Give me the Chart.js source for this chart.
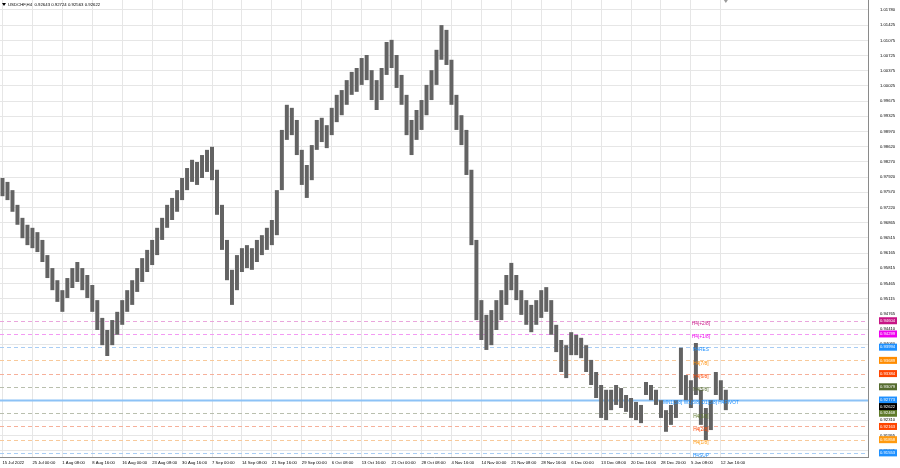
<!DOCTYPE html>
<html>
<head>
<meta charset="utf-8">
<title>USDCHF,H4</title>
<script src="https://cdn.jsdelivr.net/npm/chart.js@4.4.0/dist/chart.umd.min.js"></script>
<style>
  html, body { margin: 0; padding: 0; background: #ffffff; }
  #wrap { width: 900px; height: 468px; }
</style>
</head>
<body>
<div id="wrap"><canvas id="priceChart" width="900" height="468"></canvas></div>
<script>
// USDCHF H4 candles with murrey math levels, drawn as high/low floating bars

"use strict";

const symbolName = "USDCHF,H4";
const lastOhlc = [0.92643, 0.92724, 0.92563, 0.92622];

const tickLabels = [
  "15 Jul 2022", "25 Jul 00:00", "1 Aug 08:00", "8 Aug 16:00", "16 Aug 00:00",
  "23 Aug 08:00", "30 Aug 16:00", "7 Sep 00:00", "14 Sep 08:00", "21 Sep 16:00",
  "29 Sep 00:00", "6 Oct 08:00", "13 Oct 16:00", "21 Oct 00:00", "28 Oct 08:00",
  "4 Nov 16:00", "14 Nov 00:00", "21 Nov 08:00", "28 Nov 16:00", "6 Dec 00:00",
  "13 Dec 08:00", "20 Dec 16:00", "28 Dec 20:00", "5 Jan 08:00", "12 Jan 16:00"
];

// one entry per group of candles
const highs = [
  0.9790, 0.9781, 0.9762, 0.9728, 0.9698, 0.9682, 0.9675, 0.9665, 0.9647, 0.9612,
  0.9582, 0.9554, 0.9531, 0.9559, 0.9582, 0.9596, 0.9582, 0.9566, 0.9543, 0.9508,
  0.9467, 0.9439, 0.9462, 0.9481, 0.9508, 0.9531, 0.9554, 0.9582, 0.9605, 0.9624,
  0.9647, 0.9675, 0.9698, 0.9728, 0.9744, 0.9762, 0.9790, 0.9813, 0.9832, 0.9827,
  0.9843, 0.9855, 0.9862, 0.9809, 0.9728, 0.9647, 0.9578, 0.9612, 0.9628, 0.9635,
  0.9628, 0.9647, 0.9658, 0.9675, 0.9693, 0.9762, 0.9901, 0.9959, 0.9952, 0.9924,
  0.9855, 0.9820, 0.9866, 0.9924, 0.9929, 0.9912, 0.9952, 0.9982, 0.9993, 1.0016,
  1.0035, 1.0044, 1.0067, 1.0074, 1.0039, 1.0016, 1.0044, 1.0104, 1.0109, 1.0074,
  1.0028, 0.9982, 0.9924, 0.9947, 0.9970, 1.0005, 1.0039, 1.0086, 1.0143, 1.0132,
  1.0063, 0.9982, 0.9935, 0.9901, 0.9809, 0.9647, 0.9508, 0.9474, 0.9485, 0.9508,
  0.9531, 0.9566, 0.9594, 0.9566, 0.9531, 0.9508, 0.9497, 0.9508, 0.9531, 0.9538,
  0.9508, 0.9451, 0.9416, 0.9404, 0.9434, 0.9428, 0.9421, 0.9404, 0.9370, 0.9342,
  0.9312, 0.9301, 0.9301, 0.9312, 0.9305, 0.9289, 0.9282, 0.9273, 0.9266, 0.9319,
  0.9312, 0.9301, 0.9277, 0.9254, 0.9266, 0.9277, 0.9398, 0.9335, 0.9323, 0.9409,
  0.9301, 0.9259, 0.9277, 0.9342, 0.9323, 0.9301
];

const lows = [
  0.9748, 0.9739, 0.9712, 0.9682, 0.9651, 0.9635, 0.9628, 0.9619, 0.9596, 0.9559,
  0.9531, 0.9504, 0.9481, 0.9513, 0.9536, 0.9550, 0.9531, 0.9513, 0.9481, 0.9439,
  0.9404, 0.9379, 0.9404, 0.9428, 0.9451, 0.9481, 0.9497, 0.9527, 0.9550, 0.9573,
  0.9589, 0.9612, 0.9647, 0.9675, 0.9693, 0.9712, 0.9739, 0.9762, 0.9781, 0.9774,
  0.9790, 0.9804, 0.9785, 0.9705, 0.9624, 0.9554, 0.9497, 0.9531, 0.9573, 0.9582,
  0.9578, 0.9596, 0.9612, 0.9624, 0.9635, 0.9658, 0.9762, 0.9878, 0.9889, 0.9843,
  0.9774, 0.9744, 0.9785, 0.9855, 0.9873, 0.9859, 0.9889, 0.9919, 0.9935, 0.9959,
  0.9982, 0.9989, 1.0005, 1.0016, 0.9970, 0.9947, 0.9970, 1.0028, 1.0044, 0.9998,
  0.9959, 0.9889, 0.9843, 0.9878, 0.9901, 0.9935, 0.9970, 1.0005, 1.0063, 1.0051,
  0.9959, 0.9901, 0.9866, 0.9797, 0.9635, 0.9462, 0.9416, 0.9393, 0.9404, 0.9439,
  0.9462, 0.9497, 0.9531, 0.9508, 0.9474, 0.9451, 0.9434, 0.9451, 0.9467, 0.9481,
  0.9428, 0.9388, 0.9342, 0.9328, 0.9381, 0.9381, 0.9374, 0.9342, 0.9312, 0.9282,
  0.9236, 0.9231, 0.9254, 0.9266, 0.9259, 0.9250, 0.9236, 0.9231, 0.9224, 0.9289,
  0.9277, 0.9266, 0.9236, 0.9204, 0.9220, 0.9236, 0.9289, 0.9277, 0.9259, 0.9289,
  0.9220, 0.9185, 0.9208, 0.9289, 0.9277, 0.9254
];

const priceTicks = [
  1.01780, 1.01425, 1.01075, 1.00725, 1.00375, 1.00025, 0.99675, 0.99325, 0.98970,
  0.98620, 0.98270, 0.97920, 0.97570, 0.97220, 0.96865, 0.96515, 0.96165, 0.95815,
  0.95465, 0.95115, 0.94765, 0.94410, 0.94060, 0.92310, 0.91955, 0.91605
];

const levelNames = [
  "H4[+2/8]", "H4[+1/8]", "H4RES", "H4[7/8]", "H4[6/8]", "H4[5/8]",
  "MN1[3/8] W1[6/8] D1[5/8] H4PIVOT", "H4[3/8]", "H4[2/8]", "H4[1/8]", "H4SUP"
];
const levelValues = [
  0.94604, 0.94299, 0.93994, 0.93689, 0.93384, 0.93079,
  0.92773, 0.92468, 0.92163, 0.91858, 0.91553
];

// colours of each level: text/box, and the lighter line
const levelColors = ["#c71585", "#ee00ee", "#1e90ff", "#ff8c00", "#ff4500", "#556b2f",
                     "#1e90ff", "#5f7a2a", "#ff4500", "#ff9a10", "#1e90ff"];
const levelLines = ["#eaa6dc", "#f39af3", "#a9cdf4", "#f8c99a", "#f6b09a", "#b9bfae",
                    "#8cc2f6", "#b9bfae", "#f6b09a", "#f8c99a", "#a9cdf4"];
const pivotIndex = 6;
const labelColumn = 140;
const totalColumns = 174;

const FONT = "'Liberation Sans', Arial, sans-serif";
const ctx = document.getElementById("priceChart").getContext("2d");

const categories = [];
for (let i = 0; i < totalColumns; i++) categories.push(i);

const candles = highs.map(function (h, i) { return [lows[i], h]; });

const mtPlugin = {
  id: "mtLevels",
  beforeDatasetsDraw(chart) {
    const c = chart.ctx, area = chart.chartArea, y = chart.scales.y;
    c.save();
    levelValues.forEach(function (v, i) {
      const py = Math.round(y.getPixelForValue(v)) + 0.5;
      c.strokeStyle = levelLines[i];
      c.lineWidth = i === pivotIndex ? 2 : 1;
      c.setLineDash(i === pivotIndex ? [] : [4, 3]);
      c.beginPath();
      c.moveTo(area.left, py);
      c.lineTo(area.right, py);
      c.stroke();
    });
    c.restore();
  },
  afterDraw(chart) {
    const c = chart.ctx, area = chart.chartArea, y = chart.scales.y, x = chart.scales.x;
    c.save();
    // level captions on the chart
    c.font = "4.8px " + FONT;
    c.textAlign = "center";
    c.textBaseline = "middle";
    const lx = x.getPixelForValue(labelColumn);
    levelValues.forEach(function (v, i) {
      c.fillStyle = levelColors[i];
      c.fillText(levelNames[i], lx, y.getPixelForValue(v) + 3);
    });
    // price boxes on the axis
    c.font = "4.2px " + FONT;
    c.textAlign = "left";
    const drawBox = function (v, col) {
      const py = y.getPixelForValue(v);
      c.fillStyle = col;
      c.fillRect(area.right + 11, py - 3.5, 18, 7);
      c.fillStyle = "#ffffff";
      c.fillText(v.toFixed(5), area.right + 12, py);
    };
    levelValues.forEach(function (v, i) { drawBox(v, levelColors[i]); });
    drawBox(lastOhlc[3], "#000000");
    // title
    c.fillStyle = "#000000";
    c.beginPath();
    c.moveTo(2, 3); c.lineTo(6, 3); c.lineTo(4, 6); c.closePath();
    c.fill();
    c.font = "4.3px " + FONT;
    c.fillText(symbolName + "  " + lastOhlc.map(function (v) { return v.toFixed(5); }).join(" "), 8, 5);
    // shift marker at the last bar
    const sx = x.getPixelForValue(highs.length - 1);
    c.fillStyle = "#9a9a9a";
    c.beginPath();
    c.moveTo(sx - 2, 0); c.lineTo(sx + 2, 0); c.lineTo(sx, 3); c.closePath();
    c.fill();
    c.restore();
  }
};

const config = {
  type: "bar",
  data: {
    labels: categories,
    datasets: [{
      data: candles,
      backgroundColor: "#636363",
      borderWidth: 0,
      categoryPercentage: 1,
      barPercentage: 0.8
    }]
  },
  options: {
    responsive: false,
    animation: false,
    layout: { padding: 0 },
    plugins: { legend: { display: false }, tooltip: { enabled: false } },
    scales: {
      x: {
        offset: true,
        grid: {
          offset: false,
          drawTicks: false,
          color: function (c) {
            return c.index % 6 === 0 && c.index / 6 < tickLabels.length ? "#e6e6e6" : "rgba(0,0,0,0)";
          }
        },
        border: { color: "#8a8a8a" },
        ticks: {
          autoSkip: false,
          maxRotation: 0,
          minRotation: 0,
          align: "start",
          padding: 3,
          color: "#000000",
          font: { family: FONT, size: 4.2 },
          callback: function (value, index) {
            return index % 6 === 0 && index / 6 < tickLabels.length ? tickLabels[index / 6] : "";
          }
        },
        afterFit: function (s) {
          s.height = 11;
          s.paddingLeft = 0;
          s.paddingRight = 0;
        }
      },
      y: {
        position: "right",
        min: 0.91458,
        max: 1.0201,
        afterBuildTicks: function (axis) {
          axis.ticks = priceTicks.map(function (v) { return { value: v }; });
        },
        grid: { drawTicks: false, color: "#e6e6e6" },
        border: { color: "#8a8a8a" },
        ticks: {
          padding: 12,
          color: "#000000",
          font: { family: FONT, size: 4.2 },
          callback: function (value) { return value.toFixed(5); }
        },
        afterFit: function (s) {
          s.width = 32;
          s.paddingTop = 0;
          s.paddingBottom = 0;
        }
      }
    }
  },
  plugins: [mtPlugin]
};

const priceChart = new Chart(ctx, config);
</script>
</body>
</html>
